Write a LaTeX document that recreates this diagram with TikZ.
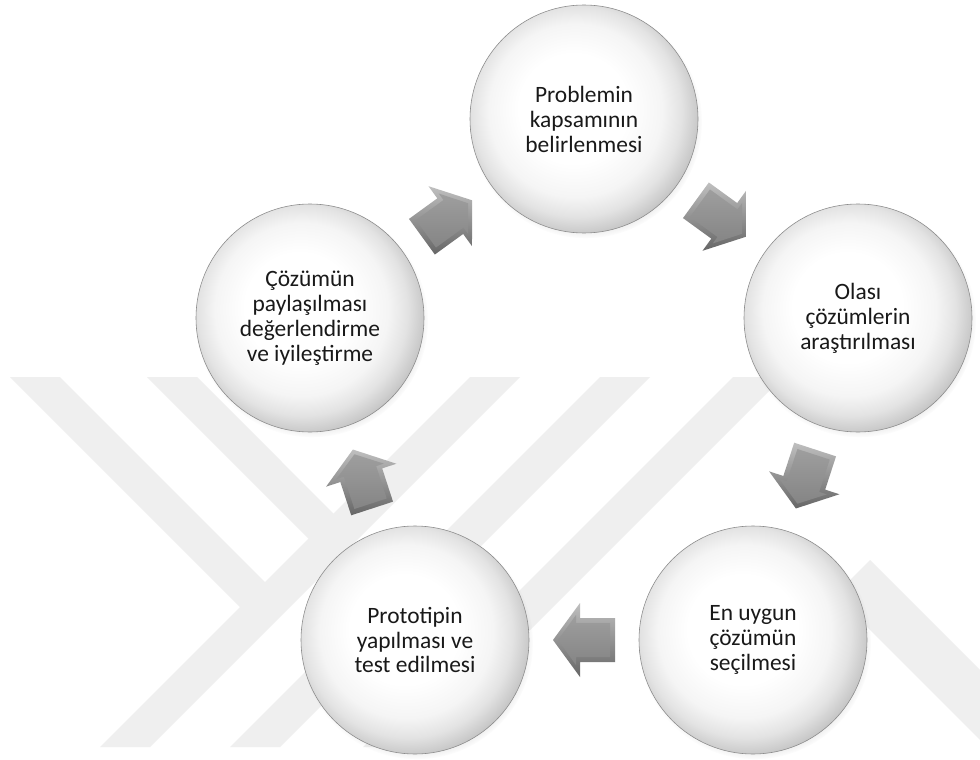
\documentclass[tikz,border=0pt]{standalone}
\usepackage{fontspec}
\setmainfont{Carlito}
\usetikzlibrary{calc,shadows}

% glossy face of the stage discs: light at the upper left, grey towards the rim
\pgfdeclareradialshading{buttonface}{\pgfpoint{-3bp}{3bp}}{%
  color(0bp)=(white); color(12bp)=(white); color(19bp)=(black!4);
  color(23bp)=(black!11); color(26bp)=(black!20); color(29bp)=(black!30);
  color(50bp)=(black!30)}

\definecolor{wmgray}{HTML}{EFEFEF}

\begin{document}
\begin{tikzpicture}[x=0.03cm, y=-0.03cm,
  band/.style={fill=wmgray, draw=none},
  stage/.style={circle, minimum size=6.84cm, inner sep=0pt,
    shade, shading=buttonface, draw=black!45, line width=0.5pt,
    align=center, text=black!90, font=\fontsize{20}{21.3}\selectfont,
    circular drop shadow={shadow xshift=1.5pt, shadow yshift=-2.5pt,
      shadow scale=1.02, opacity=0.3}},
  blockarrow/.pic={
    \shade[top color=black!25, bottom color=black!60]
      (-31,-22) -- (4,-22) -- (4,-37) -- (31,0) -- (4,37) -- (4,22) -- (-31,22) -- cycle;
    \shade[top color=black!38, bottom color=black!48]
      (-26,-17) -- (8,-17) -- (8,-25) -- (26,0) -- (8,25) -- (8,17) -- (-26,17) -- cycle;
  }
]
\fill[white] (0,0) rectangle (980,760);
\useasboundingbox (0,0) rectangle (980,760);

% faint striped emblem in the background
\fill[band] (10,377) -- (60,377) -- (276.5,593.5) -- (251.5,618.5) -- cycle;
\fill[band] (147,377) -- (197,377) -- (345,525) -- (320,550) -- cycle;
\fill[band] (470,377) -- (520,377) -- (150,747) -- (100,747) -- cycle;
\fill[band] (600,377) -- (650,377) -- (280,747) -- (230,747) -- cycle;
\fill[band] (733,377) -- (783,377) -- (413,747) -- (363,747) -- cycle;
\fill[band] (870,560) -- (980,670) -- (980,740) -- (835,595) -- cycle;

% the five stages, clockwise from the top
\node[stage] (n1) at (584,119) {Problemin\\kapsamının\\belirlenmesi};
\node[stage] (n2) at (858,318) {Olası\\çözümlerin\\araştırılması};
\node[stage] (n3) at (753,640) {En uygun\\çözümün\\seçilmesi};
\node[stage] (n4) at (415,640) {Prototipin\\yapılması ve\\test edilmesi};
\node[stage] (n5) at (310,318) {Çözümün\\paylaşılması\\değerlendirme\\ve iyileştirme};

% block arrows half way between consecutive stages
\foreach \a/\b in {n5/n1, n1/n2, n2/n3, n3/n4, n4/n5}
  \path let \p1=($(\b)-(\a)$), \n1={atan2(\y1,\x1)} in
    ($(\a)!0.5!(\b)$) pic[rotate=\n1] {blockarrow};
\end{tikzpicture}
\end{document}
